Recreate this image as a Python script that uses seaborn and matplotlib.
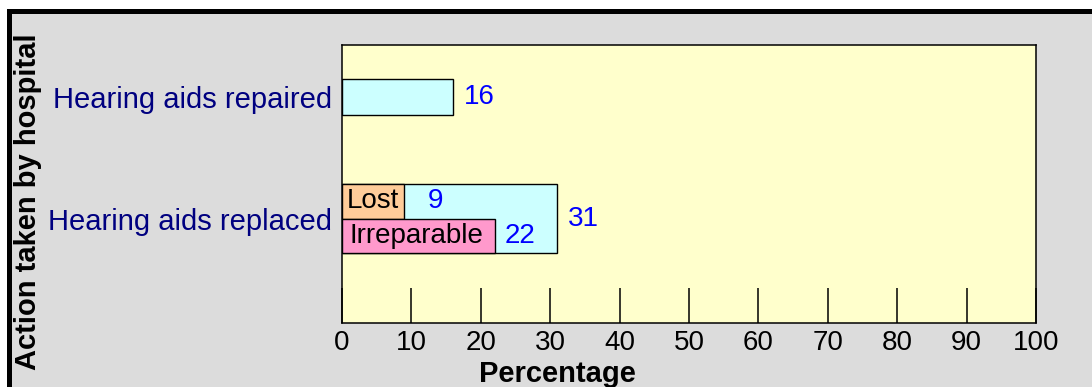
import matplotlib
matplotlib.use("Agg")
import matplotlib.pyplot as plt
from matplotlib.patches import Rectangle
import pandas as pd
import seaborn as sns

# Data
actions = ["Hearing aids repaired", "Hearing aids replaced"]
totals = [16, 31]
replaced_reasons = ["Lost", "Irreparable"]
replaced_values = [9, 22]
x_ticks = list(range(0, 101, 10))

# Colours
PANEL = "#dcdcdc"
PLOT_BG = "#ffffcc"
TOTAL_FILL = "#ccffff"
REASON_FILLS = ["#ffcc99", "#ff99cc"]
CAT_COLOR = "#000080"
VALUE_COLOR = "#0000ff"

sns.set_theme(style="white")
plt.rcParams["font.family"] = ["Liberation Sans", "DejaVu Sans"]

W, H, DPI = 1092, 387, 100
fig = plt.figure(figsize=(W / DPI, H / DPI), dpi=DPI, facecolor="white")

# Grey panel with a heavy black frame on top and left
fig.patches.append(Rectangle((9.2 / W, -0.1), 1.2, (H - 10.8) / H + 0.1,
                             transform=fig.transFigure, facecolor=PANEL,
                             edgecolor="black", linewidth=5 * 72 / DPI,
                             zorder=-10))

ax = fig.add_axes([342 / W, 1 - 323 / H, (1036 - 342) / W, (323 - 45) / H])
ax.set_facecolor(PLOT_BG)

totals_df = pd.DataFrame({"action": actions, "pct": totals})
reasons_df = pd.DataFrame({"action": [actions[1]] * len(replaced_reasons),
                           "reason": replaced_reasons,
                           "pct": replaced_values})

bar_kw = dict(x="pct", y="action", order=actions, orient="h", saturation=1,
              edgecolor="black", linewidth=1.0, errorbar=None, ax=ax)

# Outer bars: totals per action
sns.barplot(data=totals_df.iloc[[0]], width=0.289, color=TOTAL_FILL, **bar_kw)
sns.barplot(data=totals_df.iloc[[1]], width=0.572, color=TOTAL_FILL, **bar_kw)
# Split of the replaced hearing aids by reason
sns.barplot(data=reasons_df, hue="reason", hue_order=replaced_reasons,
            palette=REASON_FILLS, width=0.572, dodge=True, legend=False,
            **bar_kw)

ax.set_xlim(0, 100)
ax.set_ylim(1.858, -0.427)
ax.set_xlabel("")
ax.set_ylabel("")
ax.set_xticks(x_ticks)
ax.set_xticklabels([str(t) for t in x_ticks])
ax.tick_params(axis="x", direction="in", length=25, width=1.1, pad=5,
               labelsize=20, colors="black", bottom=True)
ax.tick_params(axis="y", left=False, length=0, pad=7, labelsize=21,
               labelcolor=CAT_COLOR)
for s in ax.spines.values():
    s.set_color("black")
    s.set_linewidth(1.1)

# Value labels for the totals
for container, val in zip(ax.containers[:2], totals):
    bar = [b for b in container if b.get_width() > 0][0]
    yc = bar.get_y() + bar.get_height() / 2
    ax.annotate(str(val), (val, yc), xytext=(7.5, 0), textcoords="offset points",
                ha="left", va="center", fontsize=20, color=VALUE_COLOR)

# Reason names inside the split bars and their values
reason_offsets = [16.5, 7.5]
name_offsets = [3.5, 5.5]
for container, name, val, voff, noff in zip(ax.containers[2:], replaced_reasons,
                                           replaced_values, reason_offsets,
                                           name_offsets):
    bar = [b for b in container if b.get_width() > 0][0]
    yc = bar.get_y() + bar.get_height() / 2
    ax.annotate(name, (0, yc), xytext=(noff, 0), textcoords="offset points",
                ha="left", va="center", fontsize=20, color="black")
    ax.annotate(str(val), (val, yc), xytext=(voff, 0), textcoords="offset points",
                ha="left", va="center", fontsize=20, color=VALUE_COLOR)

# Axis titles
fig.text(28 / W, 1 - 202 / H, "Action taken by hospital", rotation=90,
         ha="center", va="center", fontsize=21, fontweight="bold", color="black")
fig.text(557 / W, (H - 382.5) / H, "Percentage", ha="center", va="baseline",
         fontsize=21, fontweight="bold", color="black")

fig.savefig("out.png", dpi=DPI, facecolor="white")
